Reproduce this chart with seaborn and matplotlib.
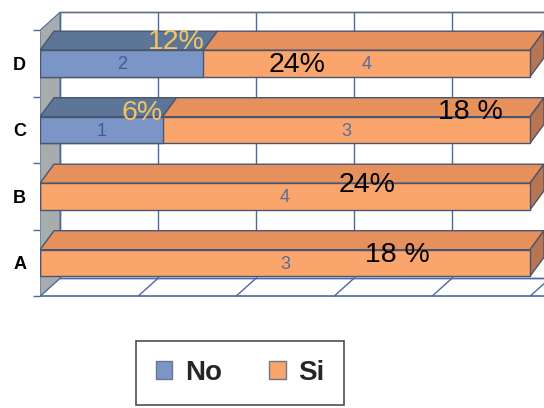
import matplotlib
matplotlib.use("Agg")
import matplotlib.pyplot as plt
from matplotlib.patches import Polygon, Patch
import seaborn as sns
import pandas as pd

# --- data -------------------------------------------------------------
categories = ["D", "C", "B", "A"]          # top to bottom
no_counts = [2, 1, 0, 0]
si_counts = [4, 3, 4, 3]
no_pct_labels = ["12%", "6%", "", ""]
si_pct_labels = ["24%", "18 %", "24%", "18 %"]

# --- styling ------------------------------------------------------------
NO_FRONT, NO_TOP = "#7b96c6", "#5d7698"
SI_FRONT, SI_TOP, SI_SIDE = "#f9a56b", "#e6915c", "#b87552"
EDGE = "#4a5570"
GRID = "#5068a0"
WALL = "#a7adac"
YELLOW = "#f2c463"

sns.set_theme(style="white")
plt.rcParams["font.family"] = ["Liberation Sans", "DejaVu Sans"]

# share of each answer within its category (100 % stacked)
totals = [n + s for n, s in zip(no_counts, si_counts)]
no_share = [100 * n / t for n, t in zip(no_counts, totals)]
si_end = [100.0 for _ in totals]

df = pd.DataFrame({"cat": categories, "no": no_share, "si": si_end})

fig = plt.figure(figsize=(5.44, 4.08), dpi=100)
PX_X = 4.9      # pixels per percent
PX_Y = 66.5     # pixels per category step
left_px = 40
ax = fig.add_axes([left_px / 544, 0, 1 - left_px / 544, 1])

BAR_H = 0.4
bar_dx, bar_dy = 14 / PX_X, 19 / PX_Y     # bar depth
wall_dx, wall_dy = 20 / PX_X, 18 / PX_Y   # chart box depth

# back wall with vertical gridlines
top, bottom = -0.5, 3.5
ax.add_patch(Polygon([(wall_dx, top - wall_dy), (110, top - wall_dy),
                      (110, bottom - wall_dy), (wall_dx, bottom - wall_dy)],
                     closed=True, facecolor="white", edgecolor=GRID, lw=1, zorder=0))
for v in range(0, 101, 20):
    ax.plot([v + wall_dx, v + wall_dx], [top - wall_dy, bottom - wall_dy],
            color=GRID, lw=1, zorder=0.5)
    # floor lines
    ax.plot([v, v + wall_dx], [bottom, bottom - wall_dy], color=GRID, lw=1, zorder=0.5)
ax.plot([0, 110], [bottom, bottom], color=GRID, lw=1.2, zorder=0.6)
ax.plot([wall_dx, 110], [bottom - wall_dy, bottom - wall_dy], color=GRID, lw=1, zorder=0.6)
ax.plot([wall_dx, 110], [top - wall_dy, top - wall_dy], color="#666c80", lw=1, zorder=0.6)

# left side wall
ax.add_patch(Polygon([(0, top), (wall_dx, top - wall_dy), (wall_dx, bottom - wall_dy), (0, bottom)],
                     closed=True, facecolor=WALL, edgecolor=GRID, lw=0.8, zorder=1))

# front faces of the stacked bars
sns.barplot(data=df, x="si", y="cat", order=categories, orient="h", color=SI_FRONT,
            width=BAR_H, edgecolor=EDGE, linewidth=1, saturation=1, ax=ax, zorder=3)
sns.barplot(data=df, x="no", y="cat", order=categories, orient="h", color=NO_FRONT,
            width=BAR_H, edgecolor=EDGE, linewidth=1, saturation=1, ax=ax, zorder=3.1)

# top and side faces
for i, (a, b) in enumerate(zip(no_share, si_end)):
    y0 = i - BAR_H / 2
    y1 = i + BAR_H / 2
    if a > 0:
        ax.add_patch(Polygon([(0, y0), (a, y0), (a + bar_dx, y0 - bar_dy), (bar_dx, y0 - bar_dy)],
                             closed=True, facecolor=NO_TOP, edgecolor=EDGE, lw=1, zorder=2))
    ax.add_patch(Polygon([(a, y0), (b, y0), (b + bar_dx, y0 - bar_dy), (a + bar_dx, y0 - bar_dy)],
                         closed=True, facecolor=SI_TOP, edgecolor=EDGE, lw=1, zorder=2))
    ax.add_patch(Polygon([(b, y0), (b, y1), (b + bar_dx, y1 - bar_dy), (b + bar_dx, y0 - bar_dy)],
                         closed=True, facecolor=SI_SIDE, edgecolor=EDGE, lw=1, zorder=2))

# count labels in the middle of each segment
for i, (n, s, a, b) in enumerate(zip(no_counts, si_counts, no_share, si_end)):
    if n > 0:
        ax.text(a / 2, i + 0.02, str(n), ha="center", va="center", fontsize=13,
                color="#405c98", zorder=5)
    ax.text((a + b) / 2, i + 0.02, str(s), ha="center", va="center", fontsize=13,
            color="#5a6b9a", zorder=5)

# percentage call-outs
no_pct_pos = [(27.8, -0.32), (20.8, 0.74), None, None]
si_pct_pos = [(52.4, 0.03), (87.8, 0.73), (66.7, 1.83), (72.9, 2.88)]
for i, (lab, pos) in enumerate(zip(no_pct_labels, no_pct_pos)):
    if lab:
        ax.text(pos[0], pos[1], lab, ha="center", va="center", fontsize=20.5,
                color=YELLOW, zorder=6)
for i, (lab, pos) in enumerate(zip(si_pct_labels, si_pct_pos)):
    ax.text(pos[0], pos[1], lab, ha="center", va="center", fontsize=20.5,
            color="black", zorder=6)

# axes
ax.set_xlim(0, (544 - left_px) / PX_X)
ax.set_ylim((408 - 63.5) / PX_Y, -63.5 / PX_Y)
ax.set_xlabel("")
ax.set_ylabel("")
ax.set_xticks([])
for sp in ax.spines.values():
    sp.set_visible(False)
ax.set_yticks(range(len(categories)))
ax.set_yticklabels(categories, fontsize=13, fontweight="bold", color="black")
ax.set_yticks([k - 0.5 for k in range(len(categories) + 1)], minor=True)
ax.tick_params(axis="y", which="major", length=0, pad=10)
ax.tick_params(axis="y", which="minor", length=5, width=1, color=GRID, left=True)
ax.set_facecolor("none")

handles = [Patch(facecolor=NO_FRONT, edgecolor="#6a7690"),
           Patch(facecolor=SI_FRONT, edgecolor="#6a7690")]
leg = fig.legend(handles, ["No", "Si"], loc="center", bbox_to_anchor=(240 / 544, 1 - 373 / 408),
                 ncol=2, prop={"weight": "bold", "size": 20}, frameon=True, fancybox=False,
                 edgecolor="#222222", handlelength=0.6, handleheight=0.6, handletextpad=0.45,
                 columnspacing=1.7, borderpad=0.7, borderaxespad=0)
leg.get_frame().set_linewidth(1.2)

fig.savefig("out.png", dpi=100)
